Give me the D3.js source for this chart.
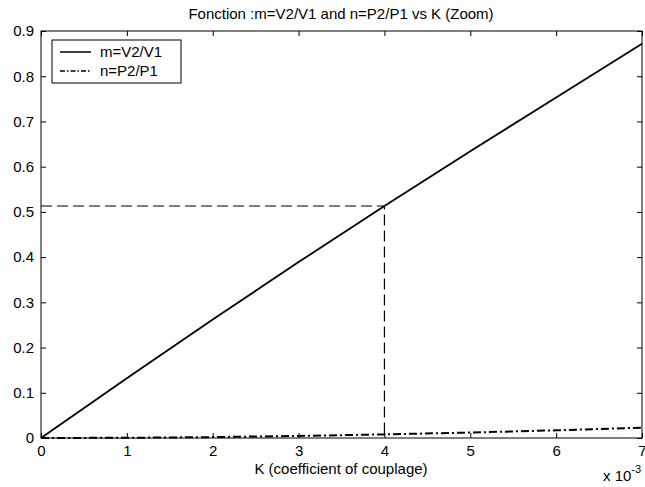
<!DOCTYPE html>
<html>
<head>
<meta charset="utf-8">
<script src="https://cdn.jsdelivr.net/npm/d3@7"></script>
<style>
  html, body { margin: 0; padding: 0; background: #fff; }
  svg { display: block; font-family: Arial, "Liberation Sans", Helvetica, sans-serif; }
</style>
</head>
<body>
<svg id="chart" width="645" height="487"></svg>
<script>
// Coupling coefficient K (units of 1e-3)
const kValues = [0, 1, 2, 3, 4, 5, 6, 7];
// Voltage ratio m = V2/V1
const mValues = [0, 0.132, 0.262, 0.389, 0.513, 0.634, 0.753, 0.872];
// Power ratio n = P2/P1
const nValues = [0, 0.0005, 0.002, 0.0045, 0.008, 0.012, 0.017, 0.023];
// Axis ticks
const xTicks = [0, 1, 2, 3, 4, 5, 6, 7];
const yTicks = [0, 0.1, 0.2, 0.3, 0.4, 0.5, 0.6, 0.7, 0.8, 0.9];
// Highlighted operating point
const markK = 4;
const markM = 0.513;

const svg = d3.select("#chart");
const plotL = 41, plotR = 642, plotT = 31, plotB = 438;
const fontSize = 15;

const x = d3.scaleLinear().domain([0, 7]).range([plotL, plotR]);
const y = d3.scaleLinear().domain([0, 0.9]).range([plotB, plotT]);

// Frame
svg.append("rect")
  .attr("x", plotL).attr("y", plotT)
  .attr("width", plotR - plotL).attr("height", plotB - plotT)
  .attr("fill", "none").attr("stroke", "#000").attr("stroke-width", 1);

// Axes with inward ticks on all four sides
const fmtY = d => d === 0 ? "0" : d3.format(".1f")(d);
const axB = svg.append("g").attr("transform", `translate(0,${plotB})`)
  .call(d3.axisBottom(x).tickValues(xTicks).tickSize(-5).tickPadding(7).tickFormat(d3.format("d")));
const axT = svg.append("g").attr("transform", `translate(0,${plotT})`)
  .call(d3.axisTop(x).tickValues(xTicks).tickSize(-5).tickFormat(""));
const axL = svg.append("g").attr("transform", `translate(${plotL},0)`)
  .call(d3.axisLeft(y).tickValues(yTicks).tickSize(-5).tickPadding(7).tickFormat(fmtY));
const axR = svg.append("g").attr("transform", `translate(${plotR},0)`)
  .call(d3.axisRight(y).tickValues(yTicks).tickSize(-5).tickFormat(""));
[axB, axT, axL, axR].forEach(g => {
  g.select(".domain").remove();
  g.selectAll("line").attr("stroke", "#000");
  g.selectAll("text").attr("font-size", fontSize).attr("fill", "#000")
    .attr("font-family", "Arial, 'Liberation Sans', sans-serif");
});

// Guide lines to the operating point
const guide = d3.line().x(d => x(d[0])).y(d => y(d[1]));
svg.append("path")
  .attr("d", guide([[0, markM], [markK, markM], [markK, 0]]))
  .attr("fill", "none").attr("stroke", "#000").attr("stroke-width", 1.2)
  .attr("stroke-dasharray", "11,5");

// Series curves
const curve = d3.line().x((d, i) => x(kValues[i])).y(d => y(d));
svg.append("path").datum(mValues)
  .attr("d", curve)
  .attr("fill", "none").attr("stroke", "#000").attr("stroke-width", 1.8);
svg.append("path").datum(nValues)
  .attr("d", curve)
  .attr("fill", "none").attr("stroke", "#000").attr("stroke-width", 2)
  .attr("stroke-dasharray", "8,3,2,3");

// Legend
const lg = svg.append("g");
lg.append("rect").attr("x", 52).attr("y", 40).attr("width", 129).attr("height", 43)
  .attr("fill", "#fff").attr("stroke", "#000").attr("stroke-width", 1);
const legendItems = [
  { label: "m=V2/V1", dash: null, yy: 52 },
  { label: "n=P2/P1", dash: "5,2,1.5,2", yy: 71 }
];
legendItems.forEach(it => {
  lg.append("line").attr("x1", 60).attr("x2", 91).attr("y1", it.yy).attr("y2", it.yy)
    .attr("stroke", "#000").attr("stroke-width", 1.5)
    .attr("stroke-dasharray", it.dash);
  lg.append("text").attr("x", 100).attr("y", it.yy + 5)
    .attr("font-size", fontSize).text(it.label);
});

// Title and axis labels
svg.append("text").attr("x", 341).attr("y", 19).attr("text-anchor", "middle")
  .attr("font-size", fontSize).text("Fonction :m=V2/V1 and n=P2/P1 vs K (Zoom)");
svg.append("text").attr("x", 341).attr("y", 474).attr("text-anchor", "middle")
  .attr("font-size", fontSize).text("K (coefficient of couplage)");
const ex = svg.append("text").attr("x", 603).attr("y", 481).attr("font-size", fontSize);
ex.append("tspan").text("x 10");
ex.append("tspan").attr("dy", -8).attr("font-size", 11).text("-3");
</script>
</body>
</html>
